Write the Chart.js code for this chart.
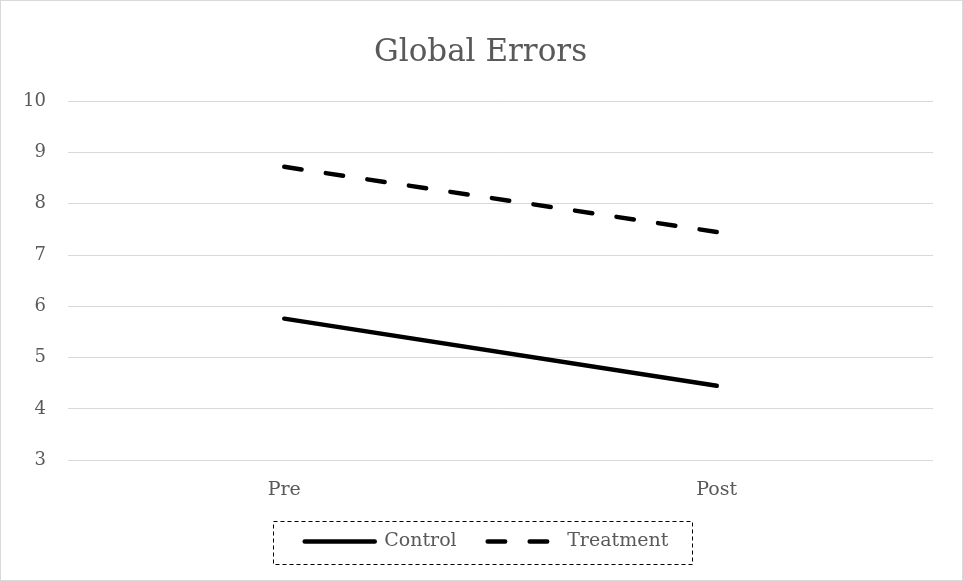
<!DOCTYPE html>
<html>
<head>
<meta charset="utf-8">
<script src="https://cdn.jsdelivr.net/npm/chart.js@4"></script>
<style>
  html, body { margin: 0; padding: 0; background: #fff; }
  #wrap { width: 963px; height: 581px; position: relative; }
</style>
</head>
<body>
<div id="wrap"><canvas id="c" width="963" height="581"></canvas></div>
<script>
const categories = ['Pre', 'Post'];
const controlValues = [5.76, 4.45];
const treatmentValues = [8.72, 7.45];
const seriesNames = ['Control', 'Treatment'];
const chartTitle = 'Global Errors';
const yMin = 3, yMax = 10, yStep = 1;

const FONT = '"DejaVu Serif", "Liberation Serif", serif';
const TEXT = '#595959';

const framePlugin = {
  id: 'frame',
  afterLayout(chart) {
    const lg = chart.legend;
    if (lg) { lg.left += 20; lg.right += 20; }
    const tb = chart.titleBlock;
    if (tb) { tb.left += 14; tb.right += 14; }
  },
  beforeDraw(chart) {
    const ctx = chart.ctx;
    ctx.save();
    ctx.fillStyle = '#ffffff';
    ctx.fillRect(0, 0, chart.width, chart.height);
    ctx.strokeStyle = '#d9d9d9';
    ctx.lineWidth = 1;
    ctx.strokeRect(0.5, 0.5, chart.width - 1, chart.height - 1);
    ctx.restore();
  },
  afterDraw(chart) {
    const lg = chart.legend;
    if (!lg || !lg.legendHitBoxes || !lg.legendHitBoxes.length) return;
    const hb = lg.legendHitBoxes;
    const left = hb[0].left - 32;
    const right = hb[hb.length - 1].left + hb[hb.length - 1].width + 23;
    const cy = hb[0].top + hb[0].height / 2;
    const ctx = chart.ctx;
    ctx.save();
    ctx.strokeStyle = '#000';
    ctx.lineWidth = 1;
    ctx.setLineDash([4, 3]);
    ctx.strokeRect(Math.round(left) + 0.5, Math.round(cy - 21) + 0.5, Math.round(right - left), 43);
    ctx.restore();
  }
};

new Chart(document.getElementById('c'), {
  type: 'line',
  data: {
    labels: categories,
    datasets: [
      {
        label: seriesNames[0],
        data: controlValues,
        borderColor: '#000',
        backgroundColor: '#000',
        borderWidth: 4.5,
        borderCapStyle: 'round',
        pointRadius: 0,
        tension: 0
      },
      {
        label: seriesNames[1],
        data: treatmentValues,
        borderColor: '#000',
        backgroundColor: '#000',
        borderWidth: 4.5,
        borderCapStyle: 'round',
        borderDash: [17.5, 24.5],
        pointRadius: 0,
        tension: 0
      }
    ]
  },
  plugins: [framePlugin],
  options: {
    responsive: false,
    animation: false,
    devicePixelRatio: 1,
    layout: { padding: { left: 0, right: 30, top: 24, bottom: 20 } },
    plugins: {
      title: {
        display: true,
        text: chartTitle,
        color: TEXT,
        font: { family: FONT, size: 31, weight: 'normal' },
        padding: { top: 10, bottom: 30 }
      },
      legend: {
        display: true,
        position: 'bottom',
        labels: {
          color: TEXT,
          font: { family: FONT, size: 19 },
          usePointStyle: true,
          pointStyleWidth: 70,
          padding: 31,
          generateLabels(chart) {
            return chart.data.datasets.map((ds, i) => ({
              text: ds.label,
              fillStyle: '#000',
              strokeStyle: '#000',
              lineWidth: 4.5,
              lineDash: ds.borderDash || [],
              lineCap: 'round',
              pointStyle: 'line',
              fontColor: TEXT,
              datasetIndex: i,
              hidden: false
            }));
          }
        }
      },
      tooltip: { enabled: false }
    },
    scales: {
      x: {
        offset: true,
        grid: { display: false },
        border: { display: false },
        ticks: { color: TEXT, font: { family: FONT, size: 19 }, padding: 10 },
        afterFit(scale) { scale.height -= 10; }
      },
      y: {
        min: yMin,
        max: yMax,
        ticks: { stepSize: yStep, color: TEXT, font: { family: FONT, size: 18 }, padding: 22 },
        grid: { color: '#d9d9d9', lineWidth: 1, drawTicks: false },
        border: { display: false },
        afterFit(scale) { scale.width = 68; }
      }
    }
  }
});
</script>
</body>
</html>
